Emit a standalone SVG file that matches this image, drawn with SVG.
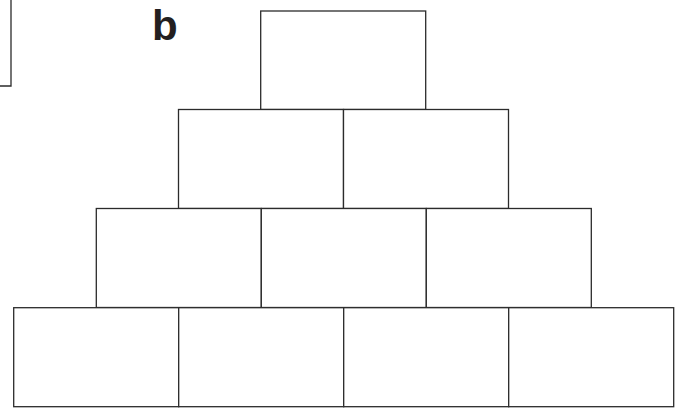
<svg xmlns="http://www.w3.org/2000/svg" width="680" height="408" viewBox="0 0 680 408">
<style>
.b{fill:#fff;stroke:#2b2b2b;stroke-width:1.3}
.lbl{font-family:"Liberation Sans",Arial,sans-serif;font-weight:bold;font-size:42px;fill:#231f20}
</style>
<rect width="680" height="408" fill="#fff"/>
<g id="partial"><polyline class="b" fill="none" points="-2,86 11,86 11,-2"/></g>
<text class="lbl" x="152" y="40">b</text>
<g id="r1c1"><rect class="b" x="260.7" y="11" width="165" height="98.5"/></g>
<g id="r2c1"><rect class="b" x="178.5" y="109.5" width="165" height="99"/></g>
<g id="r2c2"><rect class="b" x="343.5" y="109.5" width="165" height="99"/></g>
<g id="r3c1"><rect class="b" x="96.3" y="208.5" width="165" height="99"/></g>
<g id="r3c2"><rect class="b" x="261.3" y="208.5" width="165" height="99"/></g>
<g id="r3c3"><rect class="b" x="426.3" y="208.5" width="165" height="99"/></g>
<g id="r4c1"><rect class="b" x="13.7" y="307.7" width="165" height="99"/></g>
<g id="r4c2"><rect class="b" x="178.7" y="307.7" width="165" height="99"/></g>
<g id="r4c3"><rect class="b" x="343.7" y="307.7" width="165" height="99"/></g>
<g id="r4c4"><rect class="b" x="508.7" y="307.7" width="165" height="99"/></g>
<g id="connectors"></g>
</svg>
